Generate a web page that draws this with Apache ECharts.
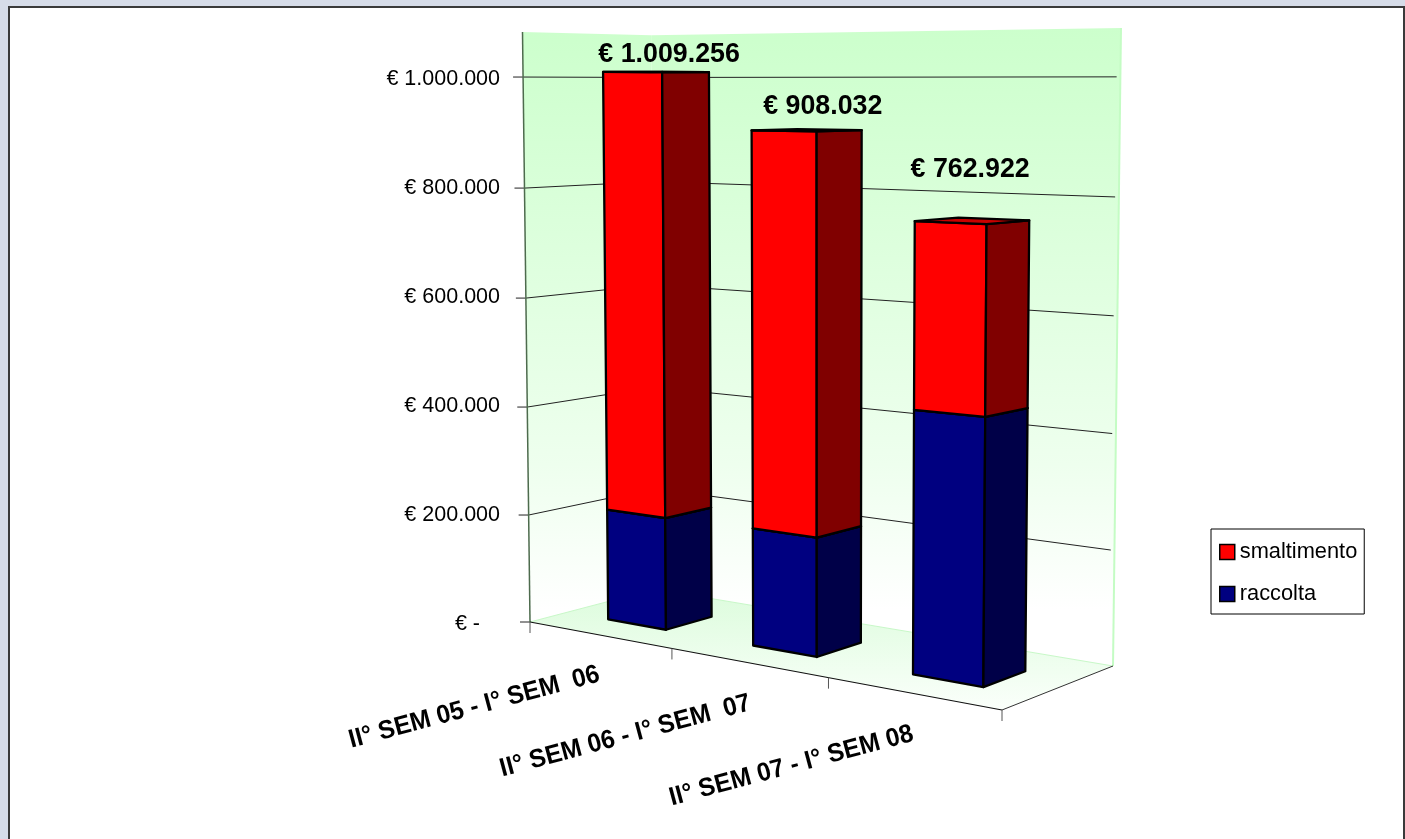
<!DOCTYPE html>
<html><head><meta charset="utf-8">
<style>html,body{margin:0;padding:0;background:#d6dce8}#c{width:1405px;height:839px}</style>
<script src="https://cdn.jsdelivr.net/npm/echarts@6/dist/echarts.min.js"></script>
</head><body><div id="c"></div>
<script>
// ---- data ----
const categories = ['II° SEM 05 - I° SEM  06','II° SEM 06 - I° SEM  07','II° SEM 07 - I° SEM 08'];
const raccolta = [206000, 210000, 449000];
const smaltimento = [803256, 698032, 313922];
const totals = [1009256, 908032, 762922];
const yTicks = [0, 200000, 400000, 600000, 800000, 1000000];
const wallTopValue = 1080600;

// ---- projection of the 3D box (x along categories, z depth, value up) ----
const P0=[530,622], P1=[1002,710], P2=[1113,666], G=-0.14, H=0.065;
const VP=[824,23740], T_PER_PX=-0.02303/545;
const ax=P1[0]*(1+G)-P0[0], ay=P1[1]*(1+G)-P0[1];
const bx=P2[0]*(1+G+H)-P1[0]*(1+G), by=P2[1]*(1+G+H)-P1[1]*(1+G);
function proj(u,z,rise){ // rise: pixels above baseline on the front-left axis
  const w=1+G*u+H*z;
  const fx=(ax*u+bx*z+P0[0])/w, fy=(ay*u+by*z+P0[1])/w;
  const t=rise*T_PER_PX/w;
  return [(fx+t*VP[0])/(1+t),(fy+t*VP[1])/(1+t)];
}
const BAR_Z0=0.29, BAR_Z1=0.66, BAR_FRAC=0.41;
const labelNudge=[[13,-4],[16,-10],[-2,-38]];
const catLabelNudge=[[0,39],[2,40],[0,40]];
const FONT='"Liberation Sans",Arial,sans-serif';

function rise(api,cs,v){return cs.y+cs.height-api.coord([0,v])[1];}
function unit(api,cs,i){return (api.coord([i,0])[0]-cs.x)/cs.width;}

function poly(points,fill,stroke,lw){
  return {type:'polygon',shape:{points:points},style:{fill:fill,stroke:stroke||null,lineWidth:lw||0,lineJoin:'round'}};
}
function line(a,b,color,lw){
  return {type:'line',shape:{x1:a[0],y1:a[1],x2:b[0],y2:b[1]},style:{stroke:color,lineWidth:lw||1,fill:null}};
}

function renderScene(params,api){
  const cs=params.coordSys; const top=rise(api,cs,wallTopValue);
  const wallFill=new echarts.graphic.LinearGradient(0,28,0,610,[{offset:0,color:'#ccffcc'},{offset:0.75,color:'#eeffee'},{offset:1,color:'#ffffff'}],true);
  const floorFill=new echarts.graphic.LinearGradient(0,590,0,712,[{offset:0,color:'#dcfcdc'},{offset:1,color:'#fbfffb'}],true);
  const A=proj(0,0,0),B=proj(1,0,0),C=proj(1,1,0),D=proj(0,1,0);
  const At=proj(0,0,top),Ct=proj(1,1,top),Dt=proj(0,1,top);
  const kids=[
    poly([A,D,Dt,At],wallFill), poly([D,C,Ct,Dt],wallFill), poly([A,B,C,D],floorFill),
    line(D,C,'#c8f8c8',1), line(C,Ct,'#c4fcc4',2), line(A,D,'#c8f8c8',1)
  ];
  yTicks.forEach(function(v){
    const r=rise(api,cs,v), a=proj(0,0,r), d=proj(0,1,r), c=proj(1,1,r);
    const ce=[d[0]+(c[0]-d[0])*0.992,d[1]+(c[1]-d[1])*0.992];
    kids.push(line([a[0]-10,a[1]],a,'#222',1));
    if(v>0){kids.push(line(a,d,'#222',1));kids.push(line(d,ce,'#222',1));}
  });
  kids.push(line(At,A,'#4d6b4d',1.5));
  kids.push(line(A,B,'#111',1.2));
  kids.push(line(B,C,'#333',1));
  [0,1/3,2/3,1].forEach(function(u){const p=proj(u,0,0);kids.push(line(p,[p[0],p[1]+11],'#555',1));});
  return {type:'group',children:kids};
}

function barRenderer(front,side,topC){
  return function(params,api){
    const cs=params.coordSys;
    const i=api.value(0), r0=rise(api,cs,api.value(1)), r1=rise(api,cs,api.value(2));
    const c=unit(api,cs,i), hw=api.size([1,0])[0]/cs.width*BAR_FRAC/2;
    const u0=c-hw,u1=c+hw;
    const s='#000';
    return {type:'group',children:[
      poly([proj(u0,BAR_Z0,r0),proj(u1,BAR_Z0,r0),proj(u1,BAR_Z0,r1),proj(u0,BAR_Z0,r1)],front,s,2.3),
      poly([proj(u1,BAR_Z0,r0),proj(u1,BAR_Z1,r0),proj(u1,BAR_Z1,r1),proj(u1,BAR_Z0,r1)],side,s,2.3),
      poly([proj(u0,BAR_Z0,r1),proj(u1,BAR_Z0,r1),proj(u1,BAR_Z1,r1),proj(u0,BAR_Z1,r1)],topC,s,2.3)
    ]};
  };
}
function renderTotal(params,api){
  const cs=params.coordSys, i=api.value(0), v=api.value(1);
  const p=proj(unit(api,cs,i),(BAR_Z0+BAR_Z1)/2,rise(api,cs,v));
  const n=labelNudge[i];
  return {type:'text',x:p[0]+n[0],y:p[1]+n[1],style:{
    text:'€ '+String(v).replace(/\B(?=(\d{3})+$)/g,'.'),
    font:'bold 26.8px '+FONT,fill:'#000',align:'center',verticalAlign:'bottom'}};
}
function renderCat(params,api){
  const cs=params.coordSys, i=api.value(0);
  const p=proj(unit(api,cs,i),0,0), n=catLabelNudge[i];
  return {type:'text',x:p[0]+n[0],y:p[1]+n[1],rotation:15*Math.PI/180,scaleX:0.95,style:{
    text:categories[i],font:'bold 26px '+FONT,fill:'#000',align:'right',verticalAlign:'middle'}};
}

const rowsR=raccolta.map(function(v,i){return [i,0,v];});
const rowsS=smaltimento.map(function(v,i){return [i,raccolta[i],raccolta[i]+v];});

const chart=echarts.init(document.getElementById('c'),null,{renderer:'canvas'});
chart.setOption({
  animation:false,
  backgroundColor:'#d6dce8',
  graphic:[
    {type:'rect',z:-10,shape:{x:8,y:6,width:1397,height:833},style:{fill:'#3a3a3a'},silent:true},
    {type:'rect',z:-9,shape:{x:10,y:8,width:1393,height:831},style:{fill:'#fff'},silent:true}
  ],
  grid:{left:530,top:77,width:472,height:545},
  xAxis:{type:'category',data:categories,axisLine:{show:false},axisTick:{show:false},axisLabel:{show:false},splitLine:{show:false}},
  yAxis:{type:'value',min:0,max:1000000,interval:200000,axisLine:{show:false},axisTick:{show:false},splitLine:{show:false},
    axisLabel:{margin:30,color:'#000',fontFamily:FONT,fontSize:21.5,padding:[5,0,0,0],
      formatter:function(v){return v===0?'{z|€ -}':'€ '+String(v).replace(/\B(?=(\d{3})+$)/g,'.');},
      rich:{z:{fontFamily:FONT,fontSize:21.5,color:'#000',padding:[0,20,0,0]}}}},
  legend:{left:1211,top:529,orient:'vertical',data:['smaltimento','raccolta'],
    backgroundColor:'#fff',borderColor:'#000',borderWidth:1,padding:[12,7,9,8],itemGap:20,
    itemWidth:15,itemHeight:15,icon:'rect',
    itemStyle:{borderColor:'#000',borderWidth:1.5},
    selectedMode:false,
    textStyle:{fontFamily:FONT,fontSize:21.8,color:'#000'}},
  series:[
    {type:'custom',name:'scene',z:1,silent:true,renderItem:renderScene,data:[[0,0]],clip:false},
    {type:'custom',name:'raccolta',z:2,silent:true,itemStyle:{color:'#000080'},renderItem:barRenderer('#000080','#000048','#00009a'),data:rowsR,clip:false},
    {type:'custom',name:'smaltimento',z:3,silent:true,itemStyle:{color:'#ff0000'},renderItem:barRenderer('#ff0000','#800000','#c80000'),data:rowsS,clip:false},
    {type:'custom',name:'totals',z:4,silent:true,renderItem:renderTotal,data:totals.map(function(v,i){return [i,v];}),clip:false},
    {type:'custom',name:'categoryLabels',z:4,silent:true,renderItem:renderCat,data:categories.map(function(c,i){return [i,0];}),clip:false}
  ]
});
</script></body></html>
